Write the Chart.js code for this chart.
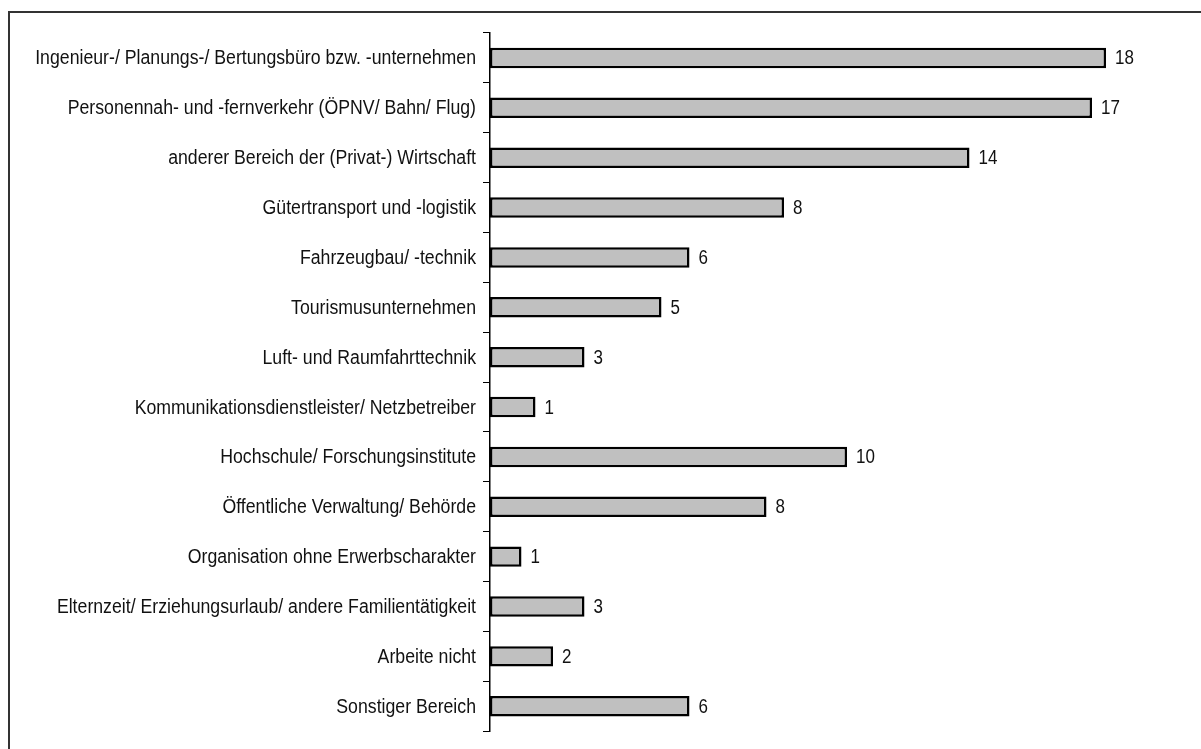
<!DOCTYPE html>
<html>
<head>
<meta charset="utf-8">
<script src="https://cdn.jsdelivr.net/npm/chart.js@4"></script>
<style>
  html, body { margin: 0; padding: 0; background: #fff; }
  #wrap { position: relative; width: 1201px; height: 749px; overflow: hidden; }
  #frame { position: absolute; left: 8px; top: 11px; width: 1300px; height: 900px;
           border-left: 2px solid #333; border-top: 2px solid #333; }
  canvas { position: absolute; left: 0; top: 0; }
</style>
</head>
<body>
<div id="wrap">
  <div id="frame"></div>
  <canvas id="c" width="1201" height="749"></canvas>
</div>
<script>
const categories = [
  "Ingenieur-/ Planungs-/ Bertungsbüro bzw. -unternehmen",
  "Personennah- und -fernverkehr (ÖPNV/ Bahn/ Flug)",
  "anderer Bereich der (Privat-) Wirtschaft",
  "Gütertransport und -logistik",
  "Fahrzeugbau/ -technik",
  "Tourismusunternehmen",
  "Luft- und Raumfahrttechnik",
  "Kommunikationsdienstleister/ Netzbetreiber",
  "Hochschule/ Forschungsinstitute",
  "Öffentliche Verwaltung/ Behörde",
  "Organisation ohne Erwerbscharakter",
  "Elternzeit/ Erziehungsurlaub/ andere Familientätigkeit",
  "Arbeite nicht",
  "Sonstiger Bereich"
];
const values = [17.6, 17.2, 13.7, 8.4, 5.7, 4.9, 2.7, 1.3, 10.2, 7.9, 0.9, 2.7, 1.8, 5.7];
const xMax = 20;

const FONT = "'Liberation Sans Narrow', 'Arial Narrow', 'Liberation Sans', Arial, sans-serif";
const SQUEEZE_LABEL = 0.885;
const SQUEEZE_VALUE = 0.85;

// Draws the category labels and value labels with a narrow (condensed) look.
const narrowText = {
  id: 'narrowText',
  afterDatasetsDraw(chart) {
    const ctx = chart.ctx;
    const yScale = chart.scales.y;
    ctx.save();
    ctx.font = "20px " + FONT;
    ctx.fillStyle = '#111';
    ctx.textBaseline = 'middle';
    // category labels
    ctx.textAlign = 'right';
    const rightX = yScale.right - 7 - 7;
    categories.forEach((c, i) => {
      const y = yScale.getPixelForValue(i);
      ctx.save();
      ctx.translate(rightX, y + 1);
      ctx.scale(SQUEEZE_LABEL, 1);
      ctx.fillText(c, 0, 0);
      ctx.restore();
    });
    // value labels
    ctx.textAlign = 'left';
    const meta = chart.getDatasetMeta(0);
    meta.data.forEach((bar, i) => {
      ctx.save();
      ctx.translate(bar.x + 9, bar.y + 1);
      ctx.scale(SQUEEZE_VALUE, 1);
      ctx.fillText(String(Math.round(values[i])), 0, 0);
      ctx.restore();
    });
    ctx.restore();
  }
};

new Chart(document.getElementById('c'), {
  type: 'bar',
  data: {
    labels: categories,
    datasets: [{
      data: values,
      backgroundColor: '#c0c0c0',
      borderColor: '#000',
      borderWidth: 2.5,
      borderSkipped: false,
      categoryPercentage: 1,
      barPercentage: 0.41
    }]
  },
  options: {
    indexAxis: 'y',
    responsive: false,
    animation: false,
    layout: { padding: { top: 33, bottom: 12, right: 11, left: 0 } },
    plugins: { legend: { display: false }, tooltip: { enabled: false } },
    scales: {
      x: {
        display: false,
        min: 0,
        max: xMax
      },
      y: {
        afterFit(scale) { scale.width = 490; },
        grid: {
          offset: true,
          drawOnChartArea: false,
          drawTicks: true,
          tickLength: 7,
          color: '#000',
          lineWidth: 1
        },
        border: { display: true, color: '#000', width: 1.5 },
        ticks: {
          color: 'rgba(0,0,0,0)',
          padding: 7,
          font: { family: FONT, size: 18 },
          autoSkip: false
        }
      }
    }
  },
  plugins: [narrowText]
});
</script>
</body>
</html>
